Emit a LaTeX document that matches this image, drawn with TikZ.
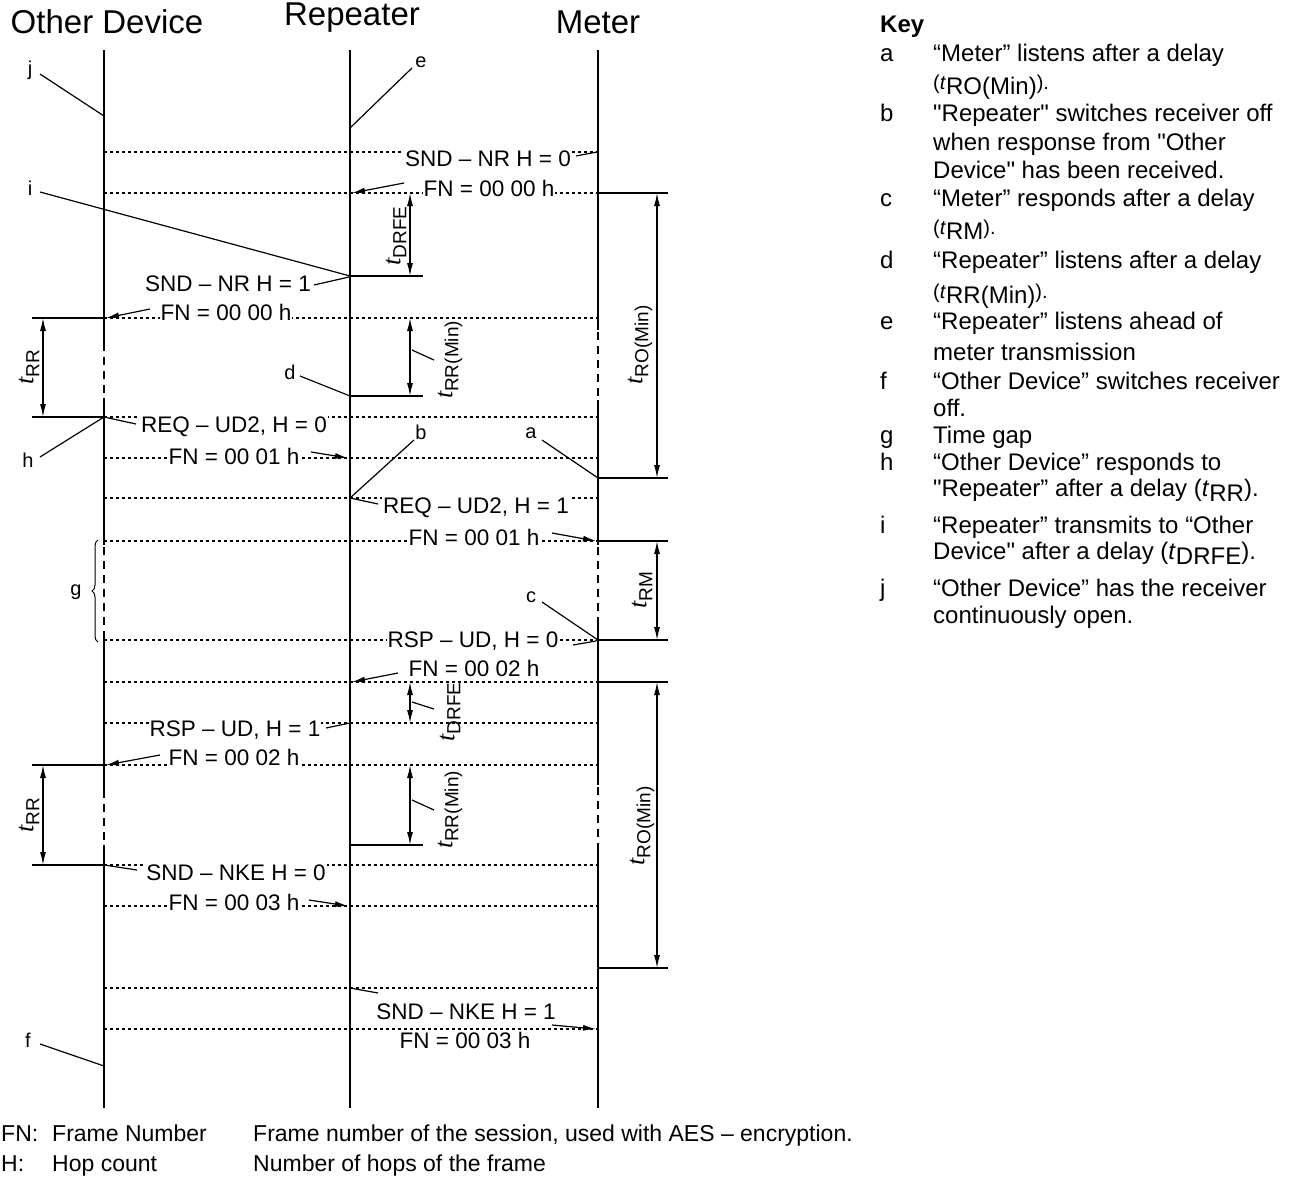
\documentclass[tikz,border=0pt]{standalone}
\usepackage{fontspec}
\setmainfont{Liberation Sans}[Ligatures=TeXOff]
\newfontfamily\tserif{Liberation Serif}
\usetikzlibrary{arrows.meta,decorations.pathreplacing}
\newcommand\fs[1]{\fontsize{#1}{#1}\selectfont}
\newcommand\tlab[1]{{\fs{26}\tserif\itshape t}\raisebox{-6pt}{\fs{19}#1}}
\newcommand\ksub[1]{{\fs{20}(\textit{t}}\raisebox{-5pt}{#1}{\fs{20}).}}
\begin{document}
\begin{tikzpicture}[x=1pt,y=-1pt,
 life/.style={line width=2.6pt},
 lifedash/.style={line width=2.6pt,dash pattern=on 8pt off 6pt},
 dotl/.style={line width=1.3pt,dash pattern=on 2.5pt off 3.5pt},
 ext/.style={line width=1.3pt},
 dimarr/.style={line width=1.3pt,{Latex[length=13pt,width=6pt]}-{Latex[length=13pt,width=6pt]}},
 msgarr/.style={line width=1.2pt,-{Latex[length=13pt,width=6pt]}},
 lead/.style={line width=1.2pt},
 msg/.style={fill=white,inner sep=1pt,font=\fs{22.5}},
 title/.style={font=\fs{33},inner sep=0pt},
 lbl/.style={font=\fs{20},inner sep=1pt},
 dimlbl/.style={rotate=90,inner sep=0pt},
 keyt/.style={anchor=base west,inner sep=0pt,font=\fs{24}},
 foot/.style={anchor=base west,inner sep=0pt,font=\fs{23}},
]
\useasboundingbox (0,0) rectangle (1291,1178);

% titles
\node[title] (tOD) at (107,22) {Other Device};
\node[title] (tR) at (352,18) {Repeater};
\node[title] (tM) at (598,22) {Meter};

% dotted time lines
\foreach \y in {152,193,318,417,458,498,541,640,682,723,765,865,906,988,1029}
  \draw[dotl] (104,\y) -- (598,\y);

% extension lines
\foreach \y in {318,417,765,865} \draw[ext] (32,\y) -- (104,\y);
\foreach \y in {276,396,845} \draw[ext] (350,\y) -- (423,\y);
\foreach \y in {193,478,541,640,682,968} \draw[ext] (598,\y) -- (668,\y);

% dimension arrows
\draw[dimarr] (410,193) -- (410,276);
\node[dimlbl] (dDRFE1) at (396,236) {\tlab{DRFE}};
\draw[dimarr] (410,318) -- (410,396);
\node[dimlbl] (dRRM1) at (450,360) {\tlab{RR(Min)}};
\draw[lead] (412,350) -- (434,360);
\draw[dimarr] (410,682) -- (410,723);
\node[dimlbl] (dDRFE2) at (450,712) {\tlab{DRFE}};
\draw[lead] (412,702) -- (434,709);
\draw[dimarr] (410,765) -- (410,845);
\node[dimlbl] (dRRM2) at (450,810) {\tlab{RR(Min)}};
\draw[lead] (412,800) -- (434,810);
\draw[dimarr] (43,318) -- (43,417);
\node[dimlbl] (dRR1) at (29,367) {\tlab{RR}};
\draw[dimarr] (43,765) -- (43,865);
\node[dimlbl] (dRR2) at (29,815) {\tlab{RR}};
\draw[dimarr] (657,193) -- (657,478);
\node[dimlbl] (dRO1) at (640,345) {\tlab{RO(Min)}};
\draw[dimarr] (657,541) -- (657,640);
\node[dimlbl] (dRM) at (642,590) {\tlab{RM}};
\draw[dimarr] (657,682) -- (657,968);
\node[dimlbl] (dRO2) at (642,826) {\tlab{RO(Min)}};

% messages
\node[msg] (m1) at (488,159) {SND – NR H = 0};
\draw[lead] (576,156) -- (597,152);
\node[msg] (m1b) at (489,188) {FN = 00 00 h};
\draw[msgarr] (404,183) -- (352,193);

\node[msg] (m2) at (228,284) {SND – NR H = 1};
\draw[lead] (314,285) -- (349,277);
\node[msg] (m2b) at (226,312) {FN = 00 00 h};
\draw[msgarr] (150,309) -- (106,318);

\node[msg] (m3) at (234,427) {REQ – UD2, H = 0};
\draw[lead] (104,417) -- (136,424);
\node[msg] (m3b) at (234,456) {FN = 00 01 h};
\draw[msgarr] (311,452) -- (348,458);

\node[msg] (m4) at (476,508) {REQ – UD2, H = 1};
\draw[lead] (350,498) -- (378,504);
\node[msg] (m4b) at (474,537) {FN = 00 01 h};
\draw[msgarr] (552,533) -- (596,541);

\node[msg] (m5) at (473,641) {RSP – UD, H = 0};
\draw[lead] (573,645) -- (596,641);
\node[msg] (m5b) at (474,668) {FN = 00 02 h};
\draw[msgarr] (398,673) -- (352,682);

\node[msg] (m6) at (235,730) {RSP – UD, H = 1};
\draw[lead] (326,728) -- (350,723);
\node[msg] (m6b) at (234,757) {FN = 00 02 h};
\draw[msgarr] (160,755) -- (106,765);

\node[msg] (m7) at (236,873) {SND – NKE H = 0};
\draw[lead] (104,865) -- (137,870);
\node[msg] (m7b) at (234,902) {FN = 00 03 h};
\draw[msgarr] (309,900) -- (348,906);

\node[msg] (m8) at (466,1012) {SND – NKE H = 1};
\draw[lead] (350,988) -- (378,993);
\node[msg] (m8b) at (465,1040) {FN = 00 03 h};
\draw[msgarr] (552,1025) -- (596,1029);

% callout labels
\node[lbl] (lj) at (30,70) {j};
\draw[lead] (40,74) -- (104,116);
\node[lbl] (le) at (421,62) {e};
\draw[lead] (412,68) -- (350,128);
\node[lbl] (li) at (30,188) {i};
\draw[lead] (40,192) -- (350,276);
\node[lbl] (ld) at (290,372) {d};
\draw[lead] (300,376) -- (350,396);
\node[lbl] (lh) at (28,460) {h};
\draw[lead] (40,457) -- (104,417);
\node[lbl] (lb) at (421,432) {b};
\draw[lead] (414,440) -- (350,498);
\node[lbl] (la) at (531,433) {a};
\draw[lead] (542,440) -- (598,478);
\node[lbl] (lc) at (531,597) {c};
\draw[lead] (542,602) -- (598,640);
\node[lbl] (lf) at (28,1040) {f};
\draw[lead] (40,1044) -- (104,1066);
\node[lbl] (lg) at (76,592) {g};
\draw[line width=1pt,decorate,decoration={brace,amplitude=6pt}] (98,642) -- (98,540);

% lifelines
\draw[life] (104,50) -- (104,343);
\draw[lifedash] (104,343) -- (104,398);
\draw[life] (104,398) -- (104,545);
\draw[lifedash] (104,547) -- (104,635);
\draw[life] (104,635) -- (104,790);
\draw[lifedash] (104,790) -- (104,845);
\draw[life] (104,845) -- (104,1108);

\draw[life] (350,50) -- (350,1108);

\draw[life] (598,50) -- (598,330);
\draw[lifedash] (598,332) -- (598,400);
\draw[life] (598,400) -- (598,545);
\draw[lifedash] (598,547) -- (598,620);
\draw[life] (598,620) -- (598,785);
\draw[lifedash] (598,787) -- (598,843);
\draw[life] (598,843) -- (598,1108);

% key
\node[keyt,font=\fs{24}\bfseries] (key) at (880,32) {Key};
\node[keyt] at (880,61) {a}; \node[keyt] at (933,61) {“Meter” listens after a delay};
\node[keyt] at (933,89) {\ksub{RO(Min)}};
\node[keyt] at (880,121) {b}; \node[keyt] at (933,121) {"Repeater" switches receiver off};
\node[keyt] at (933,150) {when response from "Other};
\node[keyt] at (933,178) {Device" has been received.};
\node[keyt] at (880,206) {c}; \node[keyt] at (933,206) {“Meter” responds after a delay};
\node[keyt] at (933,234) {\ksub{RM}};
\node[keyt] at (880,268) {d}; \node[keyt] at (933,268) {“Repeater” listens after a delay};
\node[keyt] at (933,298) {\ksub{RR(Min)}};
\node[keyt] at (880,329) {e}; \node[keyt] at (933,329) {“Repeater” listens ahead of};
\node[keyt] at (933,360) {meter transmission};
\node[keyt] at (880,389) {f}; \node[keyt] at (933,389) {“Other Device” switches receiver};
\node[keyt] at (933,416) {off.};
\node[keyt] at (880,443) {g}; \node[keyt] at (933,443) {Time gap};
\node[keyt] at (880,470) {h}; \node[keyt] at (933,470) {“Other Device” responds to};
\node[keyt] at (933,496) {"Repeater” after a delay (\textit{t}\raisebox{-5pt}{RR}).};
\node[keyt] at (880,533) {i}; \node[keyt] at (933,533) {“Repeater” transmits to “Other};
\node[keyt] at (933,559) {Device" after a delay (\textit{t}\raisebox{-5pt}{DRFE}).};
\node[keyt] at (880,596) {j}; \node[keyt] at (933,596) {“Other Device” has the receiver};
\node[keyt] at (933,623) {continuously open.};

% footnotes
\node[foot] (fn1) at (1,1141) {FN:};
\node[foot] (fn2) at (52,1141) {Frame Number};
\node[foot] (fn3) at (253,1141) {Frame number of the session, used with AES – encryption.};
\node[foot] (h1) at (1,1171) {H:};
\node[foot] (h2) at (52,1171) {Hop count};
\node[foot] (h3) at (253,1171) {Number of hops of the frame};
\end{tikzpicture}
\end{document}
